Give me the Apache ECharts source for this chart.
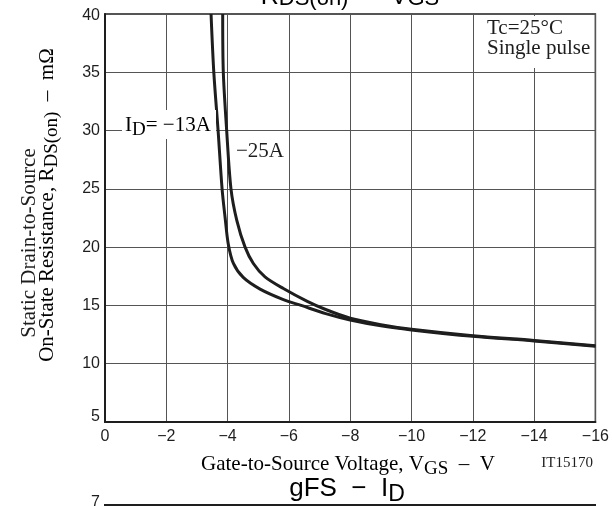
<!DOCTYPE html>
<html>
<head>
<meta charset="utf-8">
<script src="https://cdn.jsdelivr.net/npm/echarts@6/dist/echarts.min.js"></script>
<style>
  html, body { margin: 0; padding: 0; background: #fff; }
  #chart { width: 612px; height: 506px; }
</style>
</head>
<body>
<div id="chart"></div>
<script>
// RDS(on) - VGS, Tc=25°C single pulse
const vgs13 = [-3.46, -3.55, -3.69, -3.82, -3.92, -4.02, -4.19, -4.51, -5.06, -5.82, -6.4, -7.2, -8, -9, -10, -12, -14, -16]
const rds13 = [40, 35, 30, 25, 22.5, 20.3, 18.6, 17.4, 16.4, 15.5, 15.0, 14.3, 13.75, 13.25, 12.9, 12.35, 11.95, 11.5]
const vgs25 = [-3.84, -3.86, -3.97, -4.11, -4.3, -4.57, -4.84, -5.22, -5.82, -6.6, -7.2, -8, -9, -10, -12, -14, -16]
const rds25 = [40, 35, 30, 25, 22.3, 20, 18.6, 17.45, 16.45, 15.35, 14.65, 13.9, 13.35, 12.95, 12.4, 12.0, 11.55]
const xTicks = [0, -2, -4, -6, -8, -10, -12, -14, -16]
const yTicks = [5, 10, 15, 20, 25, 30, 35, 40]

const serif = '"Liberation Serif", "Times New Roman", serif'
const sans = '"Liberation Sans", Arial, sans-serif'
const ink = '#1e1e1e'

function pairs (xs, ys) {
  return xs.map((x, i) => [x, ys[i]])
}

// main text + lowered subscript, for rich text
function subRich (family, size, subSize, drop) {
  return {
    m: { fontFamily: family, fontSize: size, color: ink, lineHeight: size, verticalAlign: 'top' },
    s: { fontFamily: family, fontSize: subSize, color: ink, lineHeight: subSize, padding: [drop, 0, 0, 0], verticalAlign: 'top' }
  }
}

const chart = echarts.init(document.getElementById('chart'))

const option = {
  animation: false,
  backgroundColor: '#fff',
  grid: {
    left: 105,
    top: 14,
    right: 16.6,
    bottom: 84,
    show: true,
    borderColor: ink,
    borderWidth: 1.5
  },
  xAxis: {
    type: 'value',
    min: xTicks[xTicks.length - 1],
    max: xTicks[0],
    interval: 2,
    inverse: true,
    axisLine: { show: true, lineStyle: { color: ink, width: 2 } },
    axisTick: { show: false },
    splitLine: { show: true, lineStyle: { color: '#555', width: 1 } },
    axisLabel: {
      margin: 7,
      color: ink,
      fontFamily: sans,
      fontSize: 16,
      formatter: v => (v === 0 ? '0' : '\u2212' + Math.abs(v))
    }
  },
  yAxis: {
    type: 'value',
    min: yTicks[0],
    max: yTicks[yTicks.length - 1],
    interval: 5,
    axisLine: { show: true, lineStyle: { color: ink, width: 2 } },
    axisTick: { show: false },
    splitLine: { show: true, lineStyle: { color: '#555', width: 1 } },
    axisLabel: {
      margin: 5,
      color: ink,
      fontFamily: sans,
      fontSize: 16,
      formatter: v => (v === 5 ? '{lo|5}' : v === 40 ? '{hi|40}' : String(v)),
      rich: {
        lo: { fontFamily: sans, fontSize: 16, color: ink, padding: [0, 0, 10, 0] },
        hi: { fontFamily: sans, fontSize: 16, color: ink, padding: [4, 0, 0, 0] }
      }
    }
  },
  series: [
    {
      name: 'ID=-13A',
      type: 'line',
      data: pairs(vgs13, rds13),
      smooth: 0.3,
      showSymbol: false,
      lineStyle: { color: ink, width: 3 },
      z: 3
    },
    {
      name: 'ID=-25A',
      type: 'line',
      data: pairs(vgs25, rds25),
      smooth: 0.3,
      showSymbol: false,
      lineStyle: { color: ink, width: 3 },
      z: 3
    }
  ],
  graphic: [
    // white patches behind the in-plot notes
    { type: 'rect', shape: { x: 478, y: 16, width: 115, height: 52 }, style: { fill: '#fff' }, z: 10 },
    { type: 'rect', shape: { x: 122, y: 110, width: 94, height: 29 }, style: { fill: '#fff' }, z: 10 },
    {
      type: 'text', x: 487, y: 28, z: 11,
      style: { text: 'Tc=25°C', font: '21px ' + serif, fill: ink, verticalAlign: 'middle' }
    },
    {
      type: 'text', x: 487, y: 48, z: 11,
      style: { text: 'Single pulse', font: '21px ' + serif, fill: ink, verticalAlign: 'middle' }
    },
    {
      type: 'text', x: 125, y: 115, z: 11,
      style: { text: '{m|I}{s|D}{m|= \u221213A}', verticalAlign: 'top', rich: subRich(serif, 21, 19, 6) }
    },
    {
      type: 'text', x: 236, y: 151, z: 11,
      style: { text: '\u221225A', font: '21px ' + serif, fill: ink, verticalAlign: 'middle' }
    },
    // y-axis title, two rotated lines
    {
      type: 'text', x: 29, y: 243, rotation: Math.PI / 2,
      style: { text: 'Static Drain-to-Source', font: '21px ' + serif, fill: ink, align: 'center', verticalAlign: 'middle' }
    },
    {
      type: 'text', x: 47, y: 205, rotation: Math.PI / 2,
      style: {
        text: '{m|On-State Resistance, R}{s|DS(on)}{m|  \u2013  m\u03a9}',
        align: 'center',
        verticalAlign: 'middle',
        rich: subRich(serif, 21, 19, 6)
      }
    },
    // x-axis title
    {
      type: 'text', x: 201, y: 454,
      style: { text: '{m|Gate-to-Source Voltage, V}{s|GS}{m|  \u2013  V}', verticalAlign: 'top', rich: subRich(serif, 21, 19, 6) }
    },
    {
      type: 'text', x: 593, y: 463,
      style: { text: 'IT15170', font: '15px ' + serif, fill: ink, align: 'right', verticalAlign: 'middle' }
    },
    // chart title, cut by the top edge
    {
      type: 'text', x: 350, y: -15,
      style: { text: '{m|R}{s|DS(on)}{m|  \u2212  V}{s|GS}', align: 'center', verticalAlign: 'top', rich: subRich(sans, 25, 22, 3) }
    },
    // next chart title and its top edge
    {
      type: 'text', x: 347, y: 476,
      style: { text: '{m|gFS  \u2212  I}{s|D}', align: 'center', verticalAlign: 'top', rich: subRich(sans, 26, 23, 7) }
    },
    {
      type: 'text', x: 100, y: 503,
      style: { text: '7', font: '16px ' + sans, fill: ink, align: 'right', verticalAlign: 'middle' }
    },
    {
      type: 'line', shape: { x1: 104, y1: 505, x2: 596, y2: 505 },
      style: { stroke: ink, lineWidth: 2 }
    }
  ]
}

chart.setOption(option)
</script>
</body>
</html>
